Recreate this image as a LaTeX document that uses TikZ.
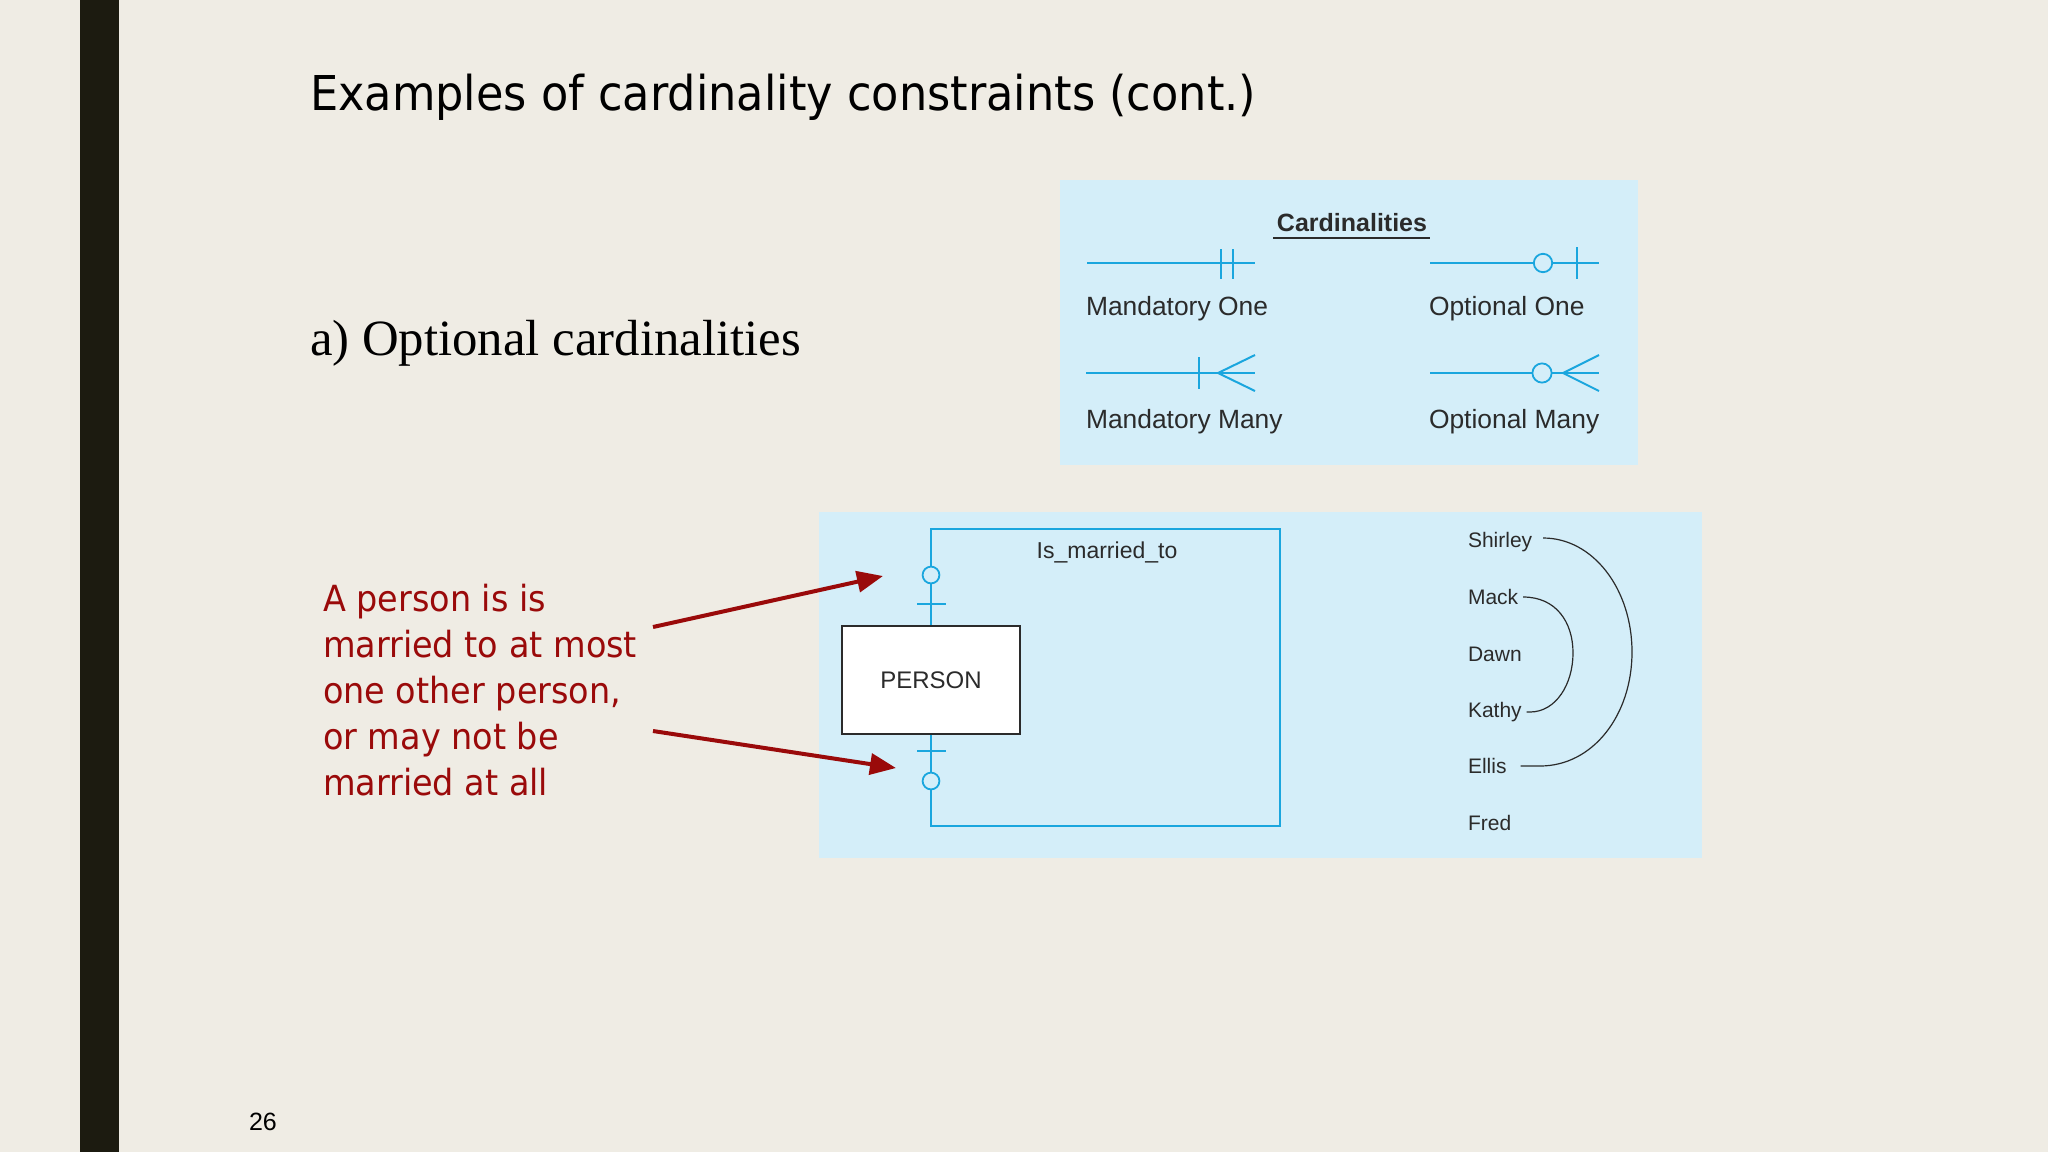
\documentclass[tikz,border=0pt]{standalone}
\usepackage{fontspec}
\setmainfont{Liberation Serif}
\newfontfamily\tahoma[FakeStretch=0.93]{DejaVu Sans}
\newfontfamily\arial{Liberation Sans}
\usetikzlibrary{arrows.meta,calc}
\definecolor{bg}{HTML}{EFECE4}
\definecolor{barc}{HTML}{1C1B10}
\definecolor{panel}{HTML}{D4EEF9}
\definecolor{cyanl}{HTML}{1AA6DE}
\definecolor{redt}{HTML}{9A0A0A}
\definecolor{ink}{HTML}{2B2B2B}
\tikzset{
  txt/.style={inner sep=0pt, outer sep=0pt, anchor=base west},
  cardlbl/.style={txt, text=ink, font=\arial\fontsize{13.2pt}{16pt}\selectfont},
  namelbl/.style={txt, text=ink, font=\arial\fontsize{10.5pt}{12pt}\selectfont},
  cyanline/.style={draw=cyanl, line width=1pt},
  optcirc/.style={draw=cyanl, fill=panel, line width=0.9pt},
  redarrow/.style={draw=redt, line width=2pt, -{Triangle[length=13pt,width=10.5pt]}},
  pairline/.style={draw=ink, line width=0.6pt},
}
\begin{document}
\begin{tikzpicture}[x=0.5pt,y=-0.5pt]
% background
\fill[bg] (0,0) rectangle (2048,1152);
\useasboundingbox (0,0) rectangle (2048,1152);
\fill[barc] (80,0) rectangle (119,1152);

% title
\node[txt, font=\tahoma\fontsize{24pt}{28pt}\selectfont, text=black] (title) at (310,110) {Examples of cardinality constraints (cont.)};
\node[txt, font=\fontsize{25.4pt}{30pt}\selectfont, text=black] (sub) at (310,355) {a) Optional cardinalities};

% cardinalities legend
\fill[panel] (1060,180) rectangle (1638,465);
\node[txt, anchor=base, text=ink, font=\arial\bfseries\fontsize{12.5pt}{15pt}\selectfont] (cardt) at (1352,231) {Cardinalities};
\draw[ink, line width=0.8pt] (1273,238) -- (1430,238);

% Mandatory One
\draw[cyanline] (1087,263) -- (1255,263);
\draw[cyanline] (1221,249) -- (1221,279);
\draw[cyanline] (1233,249) -- (1233,279);
\node[cardlbl] (mo) at (1086,315) {Mandatory One};
% Optional One
\draw[cyanline] (1430,263) -- (1599,263);
\draw[optcirc] (1543,263) circle[radius=4.6pt];
\draw[cyanline] (1577,247) -- (1577,279);
\node[cardlbl] (oo) at (1429,315) {Optional One};
% Mandatory Many
\draw[cyanline] (1086,373) -- (1255,373);
\draw[cyanline] (1199,357) -- (1199,389);
\draw[cyanline] (1255,355) -- (1218,373) -- (1255,391);
\node[cardlbl] (mm) at (1086,428) {Mandatory Many};
% Optional Many
\draw[cyanline] (1430,373) -- (1599,373);
\draw[optcirc] (1542,373) circle[radius=4.8pt];
\draw[cyanline] (1599,355) -- (1563,373) -- (1599,391);
\node[cardlbl] (om) at (1429,428) {Optional Many};

% ER panel
\fill[panel] (819,512) rectangle (1702,858);
\node[draw=ink, fill=white, line width=1pt, minimum width=89pt, minimum height=54pt, inner sep=0pt, text=ink,
      font=\arial\fontsize{12pt}{14pt}\selectfont] (person) at (931,680) {PERSON};
\coordinate (r1) at (931,529);
\coordinate (r2) at (1280,529);
\coordinate (r3) at (1280,826);
\coordinate (r4) at (931,826);
\draw[cyanline] (person.north) -- (r1) -- (r2) -- (r3) -- (r4) -- (person.south);
\draw[cyanline] (917,604) -- (946,604);
\draw[cyanline] (917,751) -- (946,751);
\draw[optcirc] (931,575) circle[radius=4.2pt];
\draw[optcirc] (931,781) circle[radius=4.2pt];
\node[txt, anchor=base, text=ink, font=\arial\fontsize{11.5pt}{14pt}\selectfont] (rel) at (1107,558) {Is\_married\_to};

% instance names
\node[namelbl] (shirley) at (1468,547) {Shirley};
\node[namelbl] (mack) at (1468,604) {Mack};
\node[namelbl] (dawn) at (1468,661) {Dawn};
\node[namelbl] (kathy) at (1468,717) {Kathy};
\node[namelbl] (ellis) at (1468,773) {Ellis};
\node[namelbl] (fred) at (1468,830) {Fred};
\draw[pairline] ($(shirley.base east)+(11,-9)$) .. controls (1593,538) and (1632,589) .. (1632,652)
   .. controls (1632,715) and (1593,766) .. (1540,766) -- ($(ellis.base east)+(14,-7)$);
\draw[pairline] ($(mack.base east)+(5,-7)$) .. controls (1556,597) and (1573,622) .. (1573,653)
   .. controls (1573,684) and (1556,712) .. (1530,712) -- ($(kathy.base east)+(5,-5)$);

% red explanation (base anchor = baseline of last line)
\node[txt, align=left, text=redt, font=\tahoma\fontsize{18pt}{23pt}\selectfont] (note) at (323,795)
  {A person is is\\married to at most\\one other person,\\or may not be\\married at all};
\coordinate (a1s) at (653,627);
\coordinate (a1e) at (883,576);
\coordinate (a2s) at (653,731);
\coordinate (a2e) at (896,768);
\draw[redarrow] (a1s) -- (a1e);
\draw[redarrow] (a2s) -- (a2e);

% page number
\node[txt, anchor=base, text=black, font=\arial\fontsize{12.5pt}{15pt}\selectfont] (pg) at (263,1130) {26};
\end{tikzpicture}
\end{document}
